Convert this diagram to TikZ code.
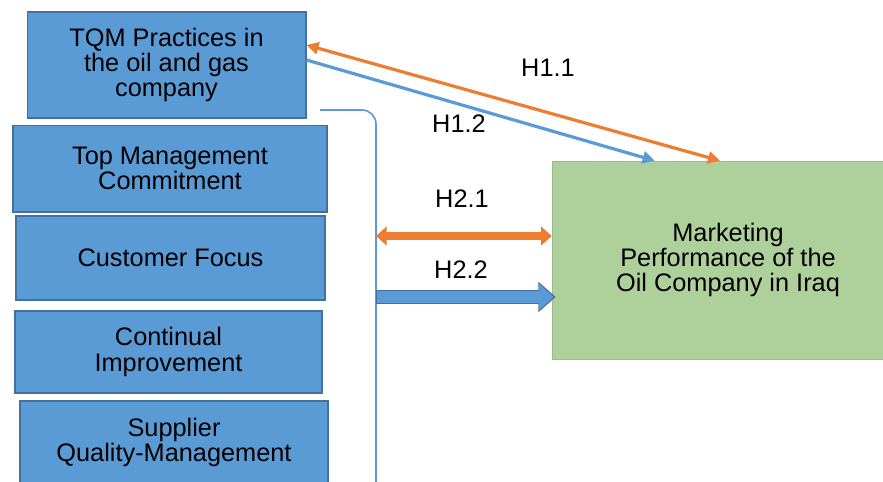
\documentclass[tikz,border=0pt]{standalone}
\usepackage{fontspec}
\setmainfont{Liberation Sans}
\usetikzlibrary{arrows.meta,positioning}
\definecolor{boxblue}{HTML}{5B9BD5}
\definecolor{boxedge}{HTML}{41719C}
\definecolor{boxgreen}{HTML}{AED09B}
\definecolor{linkorange}{HTML}{ED7D31}
\begin{document}
\begin{tikzpicture}[x=0.75pt, y=-0.75pt,
    tqmbox/.style={draw=boxedge, line width=1pt, fill=boxblue, align=center, inner sep=0pt},
    hyp/.style={font=\fontsize{19}{19}\selectfont},
    every node/.append style={font=\fontsize{19}{19}\selectfont}]
    \useasboundingbox (0,0) rectangle (883,482);

    % TQM practices and its dimensions
    \node[tqmbox, minimum width=209pt, minimum height=79.5pt] (tqm) at (166.5,65) {TQM Practices in\\the oil and gas\\company};
    \node[tqmbox, minimum width=235.5pt, minimum height=65pt] (top) at (170,168.5) {Top Management\\Commitment};
    \node[tqmbox, minimum width=231.75pt, minimum height=63pt] (cust) at (170.5,258) {Customer Focus};
    \node[tqmbox, minimum width=230.25pt, minimum height=61.5pt] (cont) at (168.5,352) {Continual\\Improvement};
    \node[tqmbox, minimum width=231pt, minimum height=62.25pt] (supp) at (174,442.5) {Supplier\\Quality-Management};

    % marketing performance
    \node[fill=boxgreen, draw=boxgreen!90!black, align=center, minimum width=264pt, minimum height=148.5pt] (mkt) at (728,260) {Marketing\\Performance of the\\Oil Company in Iraq};

    % bracket around the dimensions
    \coordinate (b1) at (320,110);
    \coordinate (b2) at (376,482);
    \draw[boxblue, line width=1.2pt] (b1) -- (362,110) to[out=0,in=90] (b2 |- 0,124) -- (b2);

    % H1.1 and H1.2
    \draw[linkorange, line width=2.4pt, {Triangle[width=9pt,length=9pt]}-{Triangle[width=9pt,length=9pt]}]
        ([yshift=15pt]tqm.east) -- ([xshift=-6pt]mkt.north);
    \draw[boxblue, line width=2.4pt, -{Triangle[width=9pt,length=9pt]}]
        ([yshift=3.75pt]tqm.east) -- ([xshift=-55pt]mkt.north);
    \node[hyp] (h11) at (548,68) {H1.1};
    \node[hyp] (h12) at (459,124) {H1.2};

    % H2.1 and H2.2
    \draw[linkorange, line width=6pt, {Triangle[width=14pt,length=8pt]}-{Triangle[width=14pt,length=8pt]}]
        (b2 |- 0,236) -- (mkt.west |- 0,236);
    \draw[boxedge, line width=11pt, -{Triangle[width=22pt,length=13pt]}]
        (b2 |- 0,297) -- ([xshift=3pt]mkt.west |- 0,297);
    \draw[boxblue, line width=9pt, -{Triangle[width=19pt,length=11pt]}]
        ([xshift=1pt]b2 |- 0,297) -- ([xshift=1.5pt]mkt.west |- 0,297);
    \node[hyp] (h21) at (462,199) {H2.1};
    \node[hyp] (h22) at (461,270) {H2.2};
\end{tikzpicture}
\end{document}
